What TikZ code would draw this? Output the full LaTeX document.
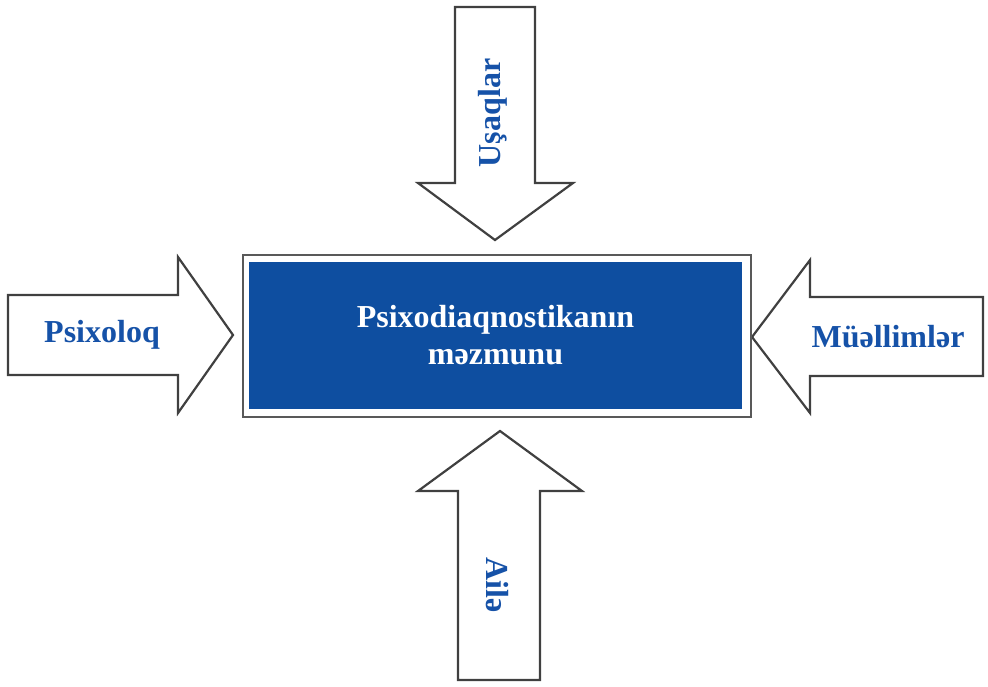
\documentclass[tikz,border=0pt]{standalone}
\usepackage{fontspec}
\setmainfont{Liberation Serif}
\usepackage{tikz}
\usetikzlibrary{positioning}
\definecolor{boxblue}{RGB}{14,78,160}
\definecolor{labelblue}{RGB}{22,82,168}
\begin{document}
\begin{tikzpicture}[x=1pt, y=-1pt,
blockarrow/.style={draw=black!75, fill=white, line width=2.2pt, line join=miter},
framenode/.style={rectangle, draw=black!65, fill=white, line width=2.2pt, minimum width=508pt, minimum height=162pt, inner sep=0pt},
contentnode/.style={rectangle, fill=boxblue, minimum width=493pt, minimum height=147pt, align=center, text=white, font=\fontsize{32}{37}\selectfont\bfseries},
labelnode/.style={text=labelblue, font=\fontsize{32}{37}\selectfont\bfseries, inner sep=0pt},
]
\useasboundingbox (0,0) rectangle (988,686);

%Arrows
\draw[blockarrow] (8,295) -- (178,295) -- (178,257) -- (233,335) -- (178,413) -- (178,375) -- (8,375) -- cycle;
\draw[blockarrow] (983,297) -- (810,297) -- (810,260) -- (752,337) -- (810,413) -- (810,376) -- (983,376) -- cycle;
\draw[blockarrow] (455,7) -- (535,7) -- (535,183) -- (573,183) -- (495,240) -- (418,183) -- (455,183) -- cycle;
\draw[blockarrow] (458,680) -- (540,680) -- (540,491) -- (582,491) -- (500,431) -- (418,491) -- (458,491) -- cycle;

%Nodes
\node[framenode]   (frame)    at (497,336)     {};
\node[contentnode] (content)  at (495.5,335.5) {Psixodiaqnostikanın\\məzmunu};
\node[labelnode]   (psixoloq) at (102,335)     {Psixoloq};
\node[labelnode]   (muellim)  at (888,337)     {Müəllimlər};
\node[labelnode, rotate=90]  (usaqlar) at (493,113) {Uşaqlar};
\node[labelnode, rotate=-90] (aile)    at (497,585) {Ailə};

\end{tikzpicture}
\end{document}
